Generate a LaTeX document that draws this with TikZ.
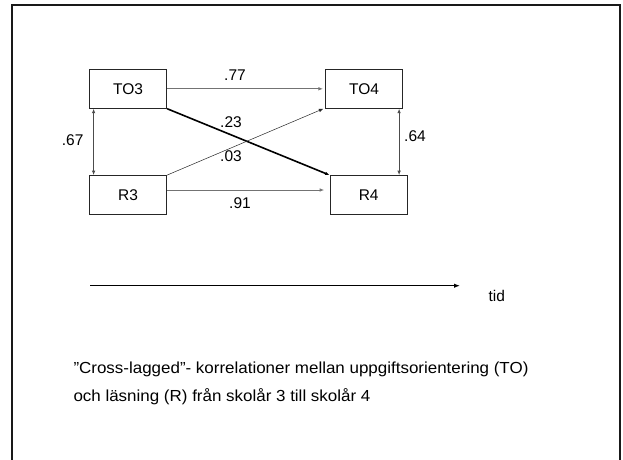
\documentclass[tikz,border=0pt]{standalone}
\usepackage{fontspec}
\setmainfont{Liberation Sans}
\usetikzlibrary{arrows.meta,calc}

\begin{document}
\begin{tikzpicture}[
  x=1pt, y=-1pt,
  every node/.style={font=\fontsize{15.5}{19}\selectfont, inner sep=0pt},
  var/.style={draw=black!85, line width=0.8pt, minimum width=77.4pt, minimum height=39pt},
  tip/.style={-{Latex[length=4.5pt,width=3.6pt]}},
  dtip/.style={{Latex[length=4.5pt,width=3.6pt]}-{Latex[length=4.5pt,width=3.6pt]}},
  path/.style={tip, line width=0.8pt, draw=black!55},
  thinpath/.style={tip, line width=0.5pt, draw=black!85},
  strongpath/.style={tip, line width=1.6pt, draw=black},
  corr/.style={dtip, line width=0.8pt, draw=black!70},
  caption/.style={anchor=base west, font=\fontsize{16}{19}\selectfont, xscale=1.06}
]
\useasboundingbox (0,0) rectangle (623,459);

% slide frame, open at the bottom
\draw[line width=2pt, draw=black!90] (11.7,462) -- (11.7,5.3) -- (620,5.3) -- (620,462);

% variables at the two measurement points
\node[var] (TO3) at (128,88.8) {TO3};
\node[var] (TO4) at (364,88.8) {TO4};
\node[var] (R3)  at (128,195)  {R3};
\node[var] (R4)  at (368.7,195) {R4};

% stability paths
\draw[path] (TO3.east) -- ([xshift=-2pt]TO4.west);
\draw[path] ([yshift=5pt]R3.east) -- ([yshift=5pt,xshift=-5.5pt]R4.west);

% cross-lagged paths
\draw[strongpath] (TO3.south east) -- (R4.north west);
\draw[thinpath] (R3.north east) -- ([xshift=-1.5pt]TO4.south west);

% synchronous correlations
\draw[corr] ([xshift=4.7pt]TO3.south west) -- ([xshift=4.7pt]R3.north west);
\draw[corr] ([xshift=-4pt]TO4.south east) -- ([xshift=-4pt]TO4.south east |- R4.north);

% coefficients
\node (c77) at (235,75)  {.77};
\node (c23) at (231,122) {.23};
\node (c03) at (231,156) {.03};
\node (c91) at (240,203) {.91};
\node (c67) at (72.7,140) {.67};
\node (c64) at (415,136) {.64};

% time axis
\coordinate (t0) at (90,285.7);
\coordinate (t1) at (460,285.7);
\draw[line width=1.5pt, -{Latex[length=6pt,width=4.5pt]}] (t0) -- (t1);
\node (tid) at (496.7,296) {tid};

% caption
\node[caption] (cap1) at (73.3,373) {”Cross-lagged”- korrelationer mellan uppgiftsorientering (TO)};
\node[caption] (cap2) at (73.3,401) {och läsning (R) från skolår 3 till skolår 4};
\end{tikzpicture}
\end{document}
